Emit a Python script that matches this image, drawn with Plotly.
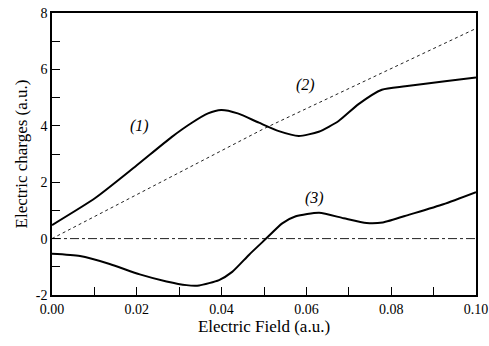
import plotly.graph_objects as go

# Curve (1)
x1 = [0.0, 0.0102, 0.0196, 0.0282, 0.0329, 0.0368, 0.0399, 0.0438, 0.0488, 0.0535, 0.0582, 0.0629, 0.0676, 0.0723, 0.0778, 0.0833, 0.0927, 0.10]
y1 = [0.48, 1.44, 2.55, 3.6, 4.1, 4.44, 4.56, 4.44, 4.11, 3.81, 3.64, 3.79, 4.17, 4.77, 5.28, 5.40, 5.58, 5.71]
# Line (2)
x2 = [0.0, 0.05, 0.10]
y2 = [0.0, 3.9, 7.45]
# Curve (3)
x3 = [0.0, 0.0066, 0.0136, 0.0207, 0.027, 0.0317, 0.0347, 0.0394, 0.0425, 0.0465, 0.0505, 0.0543, 0.0575, 0.063, 0.0688, 0.0742, 0.078, 0.0845, 0.0923, 0.10]
y3 = [-0.54, -0.62, -0.9, -1.27, -1.52, -1.65, -1.66, -1.47, -1.18, -0.57, 0.0, 0.54, 0.79, 0.92, 0.72, 0.55, 0.57, 0.86, 1.22, 1.65]
# zero reference
x0 = [0.0, 0.10]
y0 = [0.0, 0.0]

# tick labels
x_tickvals = [0.0, 0.02, 0.04, 0.06, 0.08, 0.10]
x_ticktext = ["0.00", "0.02", "0.04", "0.06", "0.08", "0.10"]
y_tickvals = [-2, 0, 2, 4, 6, 8]
y_ticktext = ["-2", "0", "2", "4", "6", "8"]

labels = ["(1)", "(2)", "(3)"]
label_x = [0.0207, 0.0598, 0.062]
label_y = [4.0, 5.43, 1.45]

SERIF = "Times New Roman, Liberation Serif, DejaVu Serif, serif"

fig = go.Figure()
fig.add_trace(go.Scatter(x=x0, y=y0, mode="lines", line=dict(color="#222", width=1, dash="dashdot")))
fig.add_trace(go.Scatter(x=x2, y=y2, mode="lines", line=dict(color="#222", width=1, dash="dot")))
fig.add_trace(go.Scatter(x=x1, y=y1, mode="lines", line=dict(color="black", width=2, shape="spline", smoothing=0.6)))
fig.add_trace(go.Scatter(x=x3, y=y3, mode="lines", line=dict(color="black", width=2, shape="spline", smoothing=0.6)))

for t, lx, ly in zip(labels, label_x, label_y):
    fig.add_annotation(x=lx, y=ly, text="<i>" + t + "</i>", showarrow=False,
                       font=dict(family=SERIF, size=16, color="black"))

axis_common = dict(showline=True, linecolor="black", linewidth=1.5, mirror=True,
                   ticks="inside", ticklen=8, tickcolor="black", tickwidth=1,
                   showgrid=False, zeroline=False, ticklabeloverflow="allow", automargin=False,
                   tickfont=dict(family=SERIF, size=14, color="black"))

fig.update_xaxes(range=[0, 0.1], tickmode="array", tickvals=x_tickvals, ticktext=x_ticktext,
                 minor=dict(dtick=0.01, tick0=0, ticks="inside", ticklen=8, tickcolor="black", showgrid=False),
                 title=dict(text="Electric Field (a.u.)", font=dict(family=SERIF, size=17, color="black"), standoff=3),
                 **axis_common)
fig.update_yaxes(range=[-2, 8], tickmode="array", tickvals=y_tickvals, ticktext=y_ticktext,
                 minor=dict(dtick=1, tick0=0, ticks="inside", ticklen=8, tickcolor="black", showgrid=False),
                 title=dict(text="Electric charges (a.u.)", font=dict(family=SERIF, size=17, color="black"), standoff=4),
                 **axis_common)

fig.update_layout(width=489, height=346, margin=dict(l=52, r=13, t=13, b=51),
                  plot_bgcolor="white", paper_bgcolor="white", showlegend=False)

fig.write_html("out.html")
